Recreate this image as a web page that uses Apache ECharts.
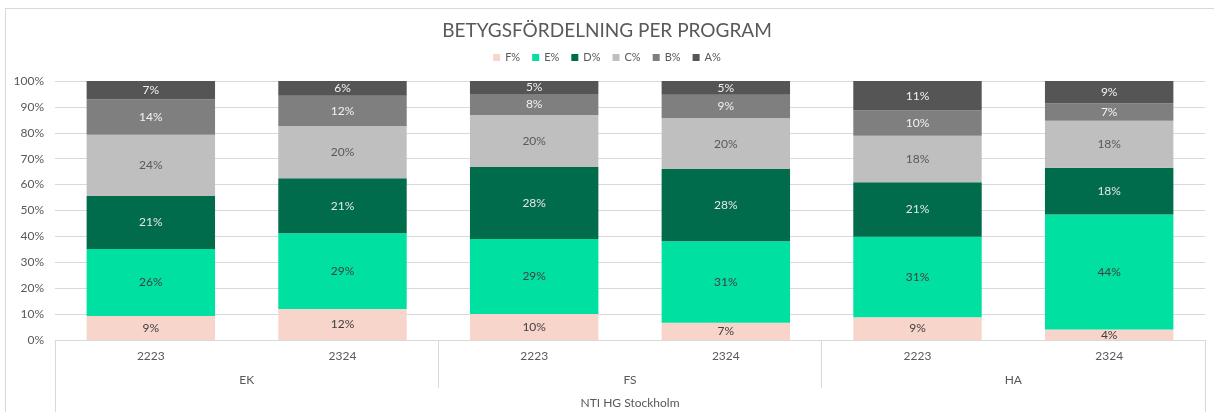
<!DOCTYPE html>
<html>
<head>
<meta charset="utf-8">
<script src="https://cdn.jsdelivr.net/npm/echarts@6/dist/echarts.min.js"></script>
<style>
  html, body { margin: 0; padding: 0; background: #fff; }
  #frame { position: absolute; left: 5px; top: 8px; width: 1220px; height: 420px; border: 1px solid #d9d9d9; box-sizing: border-box; }
  #chart { position: absolute; left: 0; top: 0; width: 1214px; height: 412px; }
</style>
</head>
<body>
<div id="frame"></div>
<div id="chart"></div>
<script>
// kategorier
let years = ['2223', '2324', '2223', '2324', '2223', '2324'];
let programs = ['EK', 'FS', 'HA'];
let school = ['NTI HG Stockholm'];
let yTicks = [0, 10, 20, 30, 40, 50, 60, 70, 80, 90, 100];

// andel per betyg (%)
let fData = [9.3, 12.0, 10.0, 6.7, 8.8, 4.1];
let eData = [25.8, 29.2, 29.0, 31.4, 31.1, 44.4];
let dData = [20.5, 21.3, 27.8, 27.9, 21.0, 18.0];
let cData = [23.6, 20.1, 20.1, 19.6, 18.0, 18.2];
let bData = [13.8, 11.7, 8.1, 9.1, 9.8, 6.7];
let aData = [7.0, 5.7, 5.0, 5.3, 11.3, 8.6];

let font = 'Lato, "Noto Sans", sans-serif';
let gridColor = '#d9d9d9';

let makeSeries = (name, data, color, labelColor) => {
  return {
    name: name,
    type: 'bar',
    stack: 'total',
    barCategoryGap: '33%',
    data: data,
    itemStyle: { color: color },
    label: {
      show: true,
      position: 'inside',
      color: labelColor,
      fontFamily: font,
      fontSize: 12,
      formatter: (p) => Math.round(p.value) + '%'
    }
  };
};

let myChart = echarts.init(document.getElementById('chart'));
let option = {
  backgroundColor: 'transparent',
  animation: false,
  title: {
    text: 'BETYGSFÖRDELNING PER PROGRAM',
    left: 'center',
    top: 16,
    textStyle: { color: '#595959', fontFamily: font, fontSize: 19, fontWeight: 'normal' }
  },
  legend: {
    top: 47,
    left: 'center',
    itemWidth: 7,
    itemHeight: 7,
    itemGap: 12,
    icon: 'rect',
    textStyle: { color: '#595959', fontFamily: font, fontSize: 11 },
    data: ['F%', 'E%', 'D%', 'C%', 'B%', 'A%']
  },
  grid: { left: 55, right: 9, top: 81, bottom: 72, containLabel: false },
  xAxis: [
    {
      type: 'category',
      data: years,
      position: 'bottom',
      axisLine: { show: true, lineStyle: { color: gridColor } },
      axisTick: { show: false },
      axisLabel: { color: '#595959', fontFamily: font, fontSize: 12, margin: 10 }
    },
    {
      type: 'category',
      data: programs,
      position: 'bottom',
      axisLine: { show: false },
      axisTick: { show: true, length: 48, lineStyle: { color: gridColor } },
      axisLabel: { color: '#595959', fontFamily: font, fontSize: 12, margin: 34 }
    },
    {
      type: 'category',
      data: school,
      position: 'bottom',
      axisLine: { show: false },
      axisTick: { show: true, length: 74, lineStyle: { color: gridColor } },
      axisLabel: { color: '#595959', fontFamily: font, fontSize: 12, margin: 57 }
    }
  ],
  yAxis: {
    type: 'value',
    min: 0,
    max: 100,
    interval: 10,
    axisLine: { show: false },
    axisTick: { show: false },
    splitLine: { lineStyle: { color: gridColor } },
    axisLabel: {
      color: '#595959', fontFamily: font, fontSize: 12, margin: 11,
      formatter: (v) => yTicks.includes(v) ? v + '%' : ''
    }
  },
  series: [
    makeSeries('F%', fData, '#f8d5cb', '#404040'),
    makeSeries('E%', eData, '#00e0a0', '#404040'),
    makeSeries('D%', dData, '#006c4c', '#e6e6e6'),
    makeSeries('C%', cData, '#bfbfbf', '#595959'),
    makeSeries('B%', bData, '#7f7f7f', '#f2f2f2'),
    makeSeries('A%', aData, '#555555', '#f2f2f2')
  ]
};
myChart.setOption(option);
</script>
</body>
</html>
